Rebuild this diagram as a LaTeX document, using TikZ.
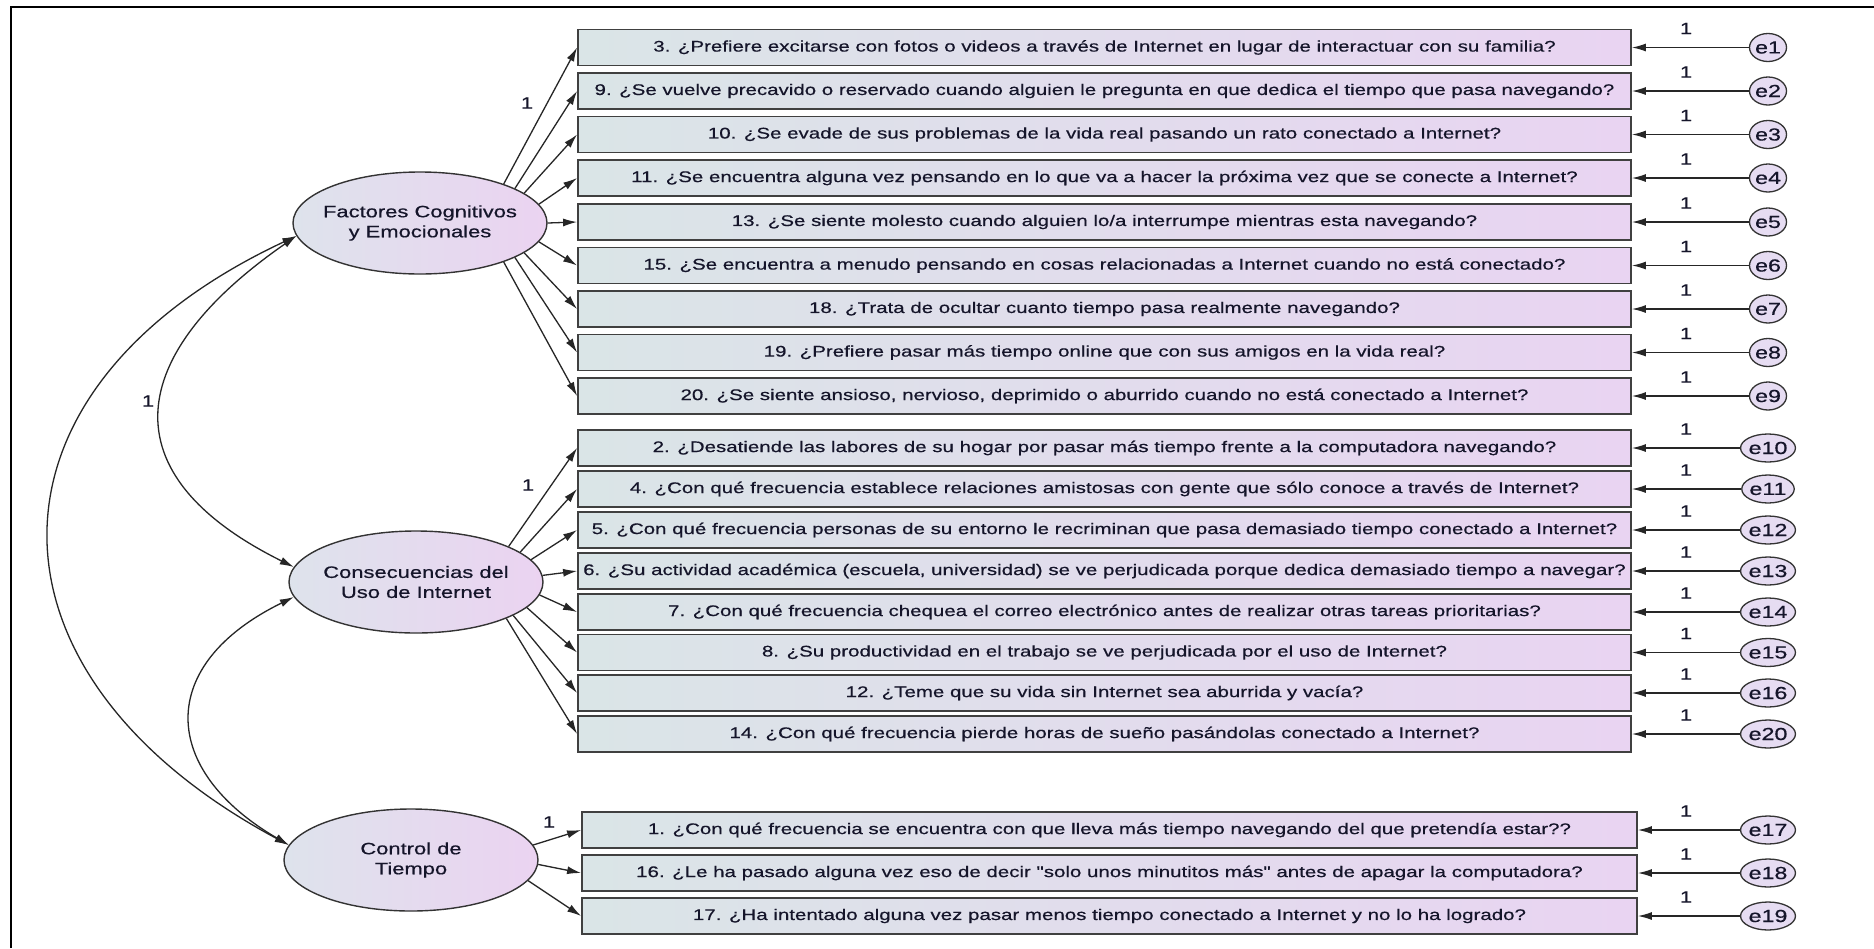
\documentclass[tikz,border=0pt]{standalone}
\usepackage{fontspec}
\setmainfont{Liberation Sans}[FakeStretch=1.33, FakeBold=0.5, Ligatures=TeXOff]
\usetikzlibrary{shapes.geometric,arrows.meta}
\definecolor{boxL}{HTML}{DAE5E7}
\definecolor{boxR}{HTML}{E9D4F2}
\definecolor{latL}{HTML}{DEE3EC}
\definecolor{latR}{HTML}{EBD3F1}
\definecolor{errF}{HTML}{E6DCF2}
\definecolor{txt}{HTML}{15152A}
\definecolor{edge}{HTML}{404040}
\begin{document}
\begin{tikzpicture}[x=1pt,y=-1pt,
  obs/.style={rectangle, draw=edge, line width=1.8pt, minimum width=1053pt, minimum height=36pt, inner sep=0pt,
    left color=boxL, right color=boxR, text=txt, font=\fontsize{15.4}{18}\selectfont},
  obsw/.style={obs, minimum width=1055pt},
  lat/.style={ellipse, draw=black!80, line width=1.4pt, minimum width=254pt, minimum height=102pt,
    inner xsep=-14pt, inner ysep=0pt,
    left color=latL, right color=latR, text=txt, align=center, font=\fontsize{16.5}{20}\selectfont},
  err/.style={ellipse, draw=black!80, line width=1.3pt, minimum width=37pt, minimum height=28pt, inner sep=0pt,
    fill=errF, text=txt, font=\fontsize{17.5}{18}\selectfont},
  lbl/.style={text=txt, inner sep=0pt, font=\fontsize{16.5}{17}\selectfont},
  arr/.style={-{Latex[length=14pt,width=8pt]}, line width=1.3pt, draw=black!85},
  cov/.style={{Latex[length=14pt,width=8pt]}-{Latex[length=14pt,width=8pt]}, line width=1.3pt, draw=black!85}
]
\useasboundingbox (0,0) rectangle (1874,948);
\fill[white] (0,0) rectangle (1874,948);
\draw[line width=2.5pt] (11,948) -- (11,7) -- (1874,7);

% latent variables
\node[lat] (fc) at (420,223) {Factores Cognitivos\\y Emocionales};
\node[lat] (cu) at (416,582) {Consecuencias del\\Uso de Internet};
\node[lat] (ct) at (411,860) {Control de\\Tiempo};

% observed variables group 1
\node[obs] (b1) at (1104.5,47.5) {3. ¿Prefiere excitarse con fotos o videos a través de Internet en lugar de interactuar con su familia?};
\node[obs] (b2) at (1104.5,91) {9. ¿Se vuelve precavido o reservado cuando alguien le pregunta en que dedica el tiempo que pasa navegando?};
\node[obs] (b3) at (1104.5,134.5) {10. ¿Se evade de sus problemas de la vida real pasando un rato conectado a Internet?};
\node[obs] (b4) at (1104.5,178) {11. ¿Se encuentra alguna vez pensando en lo que va a hacer la próxima vez que se conecte a Internet?};
\node[obs] (b5) at (1104.5,222) {13. ¿Se siente molesto cuando alguien lo/a interrumpe mientras esta navegando?};
\node[obs] (b6) at (1104.5,265.5) {15. ¿Se encuentra a menudo pensando en cosas relacionadas a Internet cuando no está conectado?};
\node[obs] (b7) at (1104.5,309) {18. ¿Trata de ocultar cuanto tiempo pasa realmente navegando?};
\node[obs] (b8) at (1104.5,352.5) {19. ¿Prefiere pasar más tiempo online que con sus amigos en la vida real?};
\node[obs] (b9) at (1104.5,396) {20. ¿Se siente ansioso, nervioso, deprimido o aburrido cuando no está conectado a Internet?};

% group 2
\node[obs] (c1) at (1104.5,448) {2. ¿Desatiende las labores de su hogar por pasar más tiempo frente a la computadora navegando?};
\node[obs] (c2) at (1104.5,489) {4. ¿Con qué frecuencia establece relaciones amistosas con gente que sólo conoce a través de Internet?};
\node[obs] (c3) at (1104.5,530) {5. ¿Con qué frecuencia personas de su entorno le recriminan que pasa demasiado tiempo conectado a Internet?};
\node[obs] (c4) at (1104.5,571) {6. ¿Su actividad académica (escuela, universidad) se ve perjudicada porque dedica demasiado tiempo a navegar?};
\node[obs] (c5) at (1104.5,612) {7. ¿Con qué frecuencia chequea el correo electrónico antes de realizar otras tareas prioritarias?};
\node[obs] (c6) at (1104.5,652.5) {8. ¿Su productividad en el trabajo se ve perjudicada por el uso de Internet?};
\node[obs] (c7) at (1104.5,693) {12. ¿Teme que su vida sin Internet sea aburrida y vacía?};
\node[obs] (c8) at (1104.5,734) {14. ¿Con qué frecuencia pierde horas de sueño pasándolas conectado a Internet?};

% group 3
\node[obsw] (d1) at (1109.5,830) {1. ¿Con qué frecuencia se encuentra con que lleva más tiempo navegando del que pretendía estar??};
\node[obsw] (d2) at (1109.5,873) {16. ¿Le ha pasado alguna vez eso de decir "solo unos minutitos más" antes de apagar la computadora?};
\node[obsw] (d3) at (1109.5,916) {17. ¿Ha intentado alguna vez pasar menos tiempo conectado a Internet y no lo ha logrado?};

% error terms
\node[err] (e1) at (1768,47.5) {e1};
\node[err] (e2) at (1768,91) {e2};
\node[err] (e3) at (1768,134.5) {e3};
\node[err] (e4) at (1768,178) {e4};
\node[err] (e5) at (1768,222) {e5};
\node[err] (e6) at (1768,265.5) {e6};
\node[err] (e7) at (1768,309) {e7};
\node[err] (e8) at (1768,352.5) {e8};
\node[err] (e9) at (1768,396) {e9};
\node[err] (e10) at (1768,448) {e10};
\node[err] (e11) at (1768,489) {e11};
\node[err] (e12) at (1768,530) {e12};
\node[err] (e13) at (1768,571) {e13};
\node[err] (e14) at (1768,612) {e14};
\node[err] (e15) at (1768,652.5) {e15};
\node[err] (e16) at (1768,693) {e16};
\node[err, minimum width=44pt] (e20) at (1768,734) {e20};
\node[err] (e17) at (1768,830) {e17};
\node[err] (e18) at (1768,873) {e18};
\node[err] (e19) at (1768,916) {e19};

% error arrows and labels
\foreach \e/\b/\y in {e1/b1/47.5, e2/b2/91, e3/b3/134.5, e4/b4/178, e5/b5/222, e6/b6/265.5, e7/b7/309, e8/b8/352.5, e9/b9/396,
  e10/c1/448, e11/c2/489, e12/c3/530, e13/c4/571, e14/c5/612, e15/c6/652.5, e16/c7/693, e20/c8/734,
  e17/d1/830, e18/d2/873, e19/d3/916}{
  \draw[arr] (\e.west) -- (\b.east);
  \node[lbl] (l\e) at (1686,\y-19) {1};
}

% loadings
\foreach \b/\a in {b1/25.7, b2/20.6, b3/16, b4/9.5, b5/0, b6/-9.5, b7/-16, b8/-20.6, b9/-25.7}{
  \draw[arr] (fc.\a) -- (\b.west);
}
\foreach \b/\a in {c1/21.7, c2/16.8, c3/11.5, c4/3, c5/-6, c6/-13, c7/-19, c8/-22.7}{
  \draw[arr] (cu.\a) -- (\b.west);
}
\foreach \b/\a in {d1/7, d2/-2, d3/-10}{
  \draw[arr] (ct.\a) -- (\b.west);
}
\node[lbl] (lfc) at (527,103) {1};
\node[lbl] (lcu) at (528,485) {1};
\node[lbl] (lct) at (549,822) {1};

% covariances
\draw[cov] (fc.186) .. controls (-33,390) and (-29,675) .. (ct.173);
\draw[cov] (fc.186) .. controls (126,354) and (106,474) .. (cu.173);
\draw[cov] (cu.187) .. controls (155,665) and (160,770) .. (ct.173);
\node[lbl] (lcov) at (148,401) {1};
\end{tikzpicture}
\end{document}
